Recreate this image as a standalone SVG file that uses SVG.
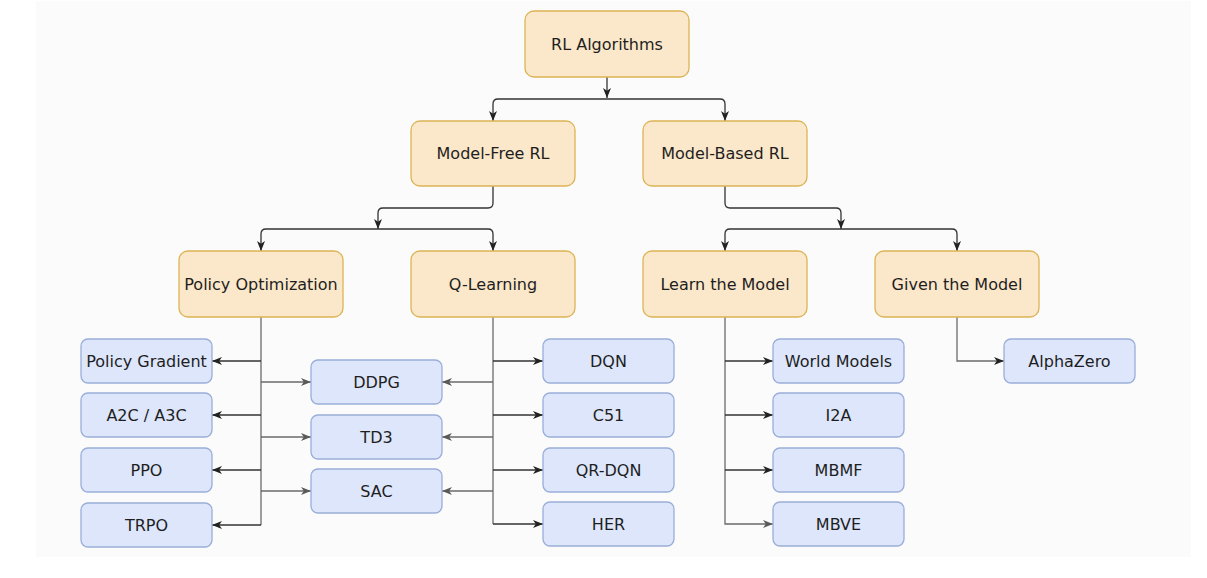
<svg xmlns="http://www.w3.org/2000/svg" width="1207" height="578" viewBox="0 0 1207 578">
  <style>
    .or { fill: #fbe7c9; stroke: #dcb454; stroke-width: 1.3; }
    .bl { fill: #dde6fb; stroke: #9aaed9; stroke-width: 1.3; }
    .t { font-family: "DejaVu Sans", Verdana, sans-serif; font-size: 16px; fill: #1e1e1e; text-anchor: middle; }
    .e { fill: none; stroke: #333333; stroke-width: 1.3; }
    .g { fill: none; stroke: #6a6a6a; stroke-width: 1.3; }
  </style>
  <defs>
    <marker id="ad" markerUnits="userSpaceOnUse" markerWidth="11" markerHeight="9" refX="10" refY="4.5" orient="auto">
      <path d="M0,0.5 L10,4.5 L0,8.5 L2.8,4.5 Z" fill="#222222"/>
    </marker>
    <marker id="ag" markerUnits="userSpaceOnUse" markerWidth="11" markerHeight="9" refX="10" refY="4.5" orient="auto">
      <path d="M0,0.5 L10,4.5 L0,8.5 L2.8,4.5 Z" fill="#5a5a5a"/>
    </marker>
  </defs>
  <rect x="36" y="1" width="1155" height="556" fill="#fbfbfb"/>

  <g id="connectors">
    <path class="e" d="M607,77 V98" marker-end="url(#ad)"/>
    <path class="e" d="M607,99 H498 Q493,99 493,104 V121" marker-end="url(#ad)"/>
    <path class="e" d="M607,99 H720 Q725,99 725,104 V121" marker-end="url(#ad)"/>

    <path class="e" d="M493,186 V203 Q493,208 488,208 H383 Q378,208 378,213 V229" marker-end="url(#ad)"/>
    <path class="e" d="M378,229 H266 Q261,229 261,234 V251" marker-end="url(#ad)"/>
    <path class="e" d="M378,229 H488 Q493,229 493,234 V251" marker-end="url(#ad)"/>

    <path class="e" d="M725,186 V203 Q725,208 730,208 H836 Q841,208 841,213 V229" marker-end="url(#ad)"/>
    <path class="e" d="M841,229 H730 Q725,229 725,234 V251" marker-end="url(#ad)"/>
    <path class="e" d="M841,229 H952 Q957,229 957,234 V251" marker-end="url(#ad)"/>

    <path class="g" d="M261,317 V525"/>
    <path class="e" d="M261,525 H212" marker-end="url(#ad)"/>
    <path class="e" d="M261,361 H212" marker-end="url(#ad)"/>
    <path class="e" d="M261,415 H212" marker-end="url(#ad)"/>
    <path class="e" d="M261,470 H212" marker-end="url(#ad)"/>
    <path class="g" d="M261,382 H311" marker-end="url(#ag)"/>
    <path class="g" d="M261,437 H311" marker-end="url(#ag)"/>
    <path class="g" d="M261,491 H311" marker-end="url(#ag)"/>

    <path class="g" d="M493,317 V524"/>
    <path class="e" d="M493,524 H543" marker-end="url(#ad)"/>
    <path class="e" d="M493,361 H543" marker-end="url(#ad)"/>
    <path class="e" d="M493,415 H543" marker-end="url(#ad)"/>
    <path class="e" d="M493,470 H543" marker-end="url(#ad)"/>
    <path class="g" d="M493,382 H442" marker-end="url(#ag)"/>
    <path class="g" d="M493,437 H442" marker-end="url(#ag)"/>
    <path class="g" d="M493,491 H442" marker-end="url(#ag)"/>

    <path class="g" d="M725,317 V524 H773" marker-end="url(#ag)"/>
    <path class="e" d="M725,361 H773" marker-end="url(#ad)"/>
    <path class="e" d="M725,415 H773" marker-end="url(#ad)"/>
    <path class="e" d="M725,470 H773" marker-end="url(#ad)"/>

    <path class="g" d="M957,317 V361 H1004" marker-end="url(#ad)"/>
  </g>

  <g id="n-rl"><rect class="or" x="525" y="11" width="164" height="66" rx="9"/><text class="t" x="607" y="50">RL Algorithms</text></g>
  <g id="n-mf"><rect class="or" x="411" y="121" width="164" height="65" rx="9"/><text class="t" x="493" y="159">Model-Free RL</text></g>
  <g id="n-mb"><rect class="or" x="643" y="121" width="164" height="65" rx="9"/><text class="t" x="725" y="159">Model-Based RL</text></g>
  <g id="n-po"><rect class="or" x="179" y="251" width="164" height="66" rx="9"/><text class="t" x="261" y="290">Policy Optimization</text></g>
  <g id="n-ql"><rect class="or" x="411" y="251" width="164" height="66" rx="9"/><text class="t" x="493" y="290">Q-Learning</text></g>
  <g id="n-lm"><rect class="or" x="643" y="251" width="164" height="66" rx="9"/><text class="t" x="725" y="290">Learn the Model</text></g>
  <g id="n-gm"><rect class="or" x="875" y="251" width="164" height="66" rx="9"/><text class="t" x="957" y="290">Given the Model</text></g>

  <g id="n-pg"><rect class="bl" x="81" y="339" width="131" height="44" rx="7"/><text class="t" x="146.5" y="367">Policy Gradient</text></g>
  <g id="n-a2c"><rect class="bl" x="81" y="393" width="131" height="44" rx="7"/><text class="t" x="146.5" y="421">A2C / A3C</text></g>
  <g id="n-ppo"><rect class="bl" x="81" y="448" width="131" height="44" rx="7"/><text class="t" x="146.5" y="476">PPO</text></g>
  <g id="n-trpo"><rect class="bl" x="81" y="503" width="131" height="44" rx="7"/><text class="t" x="146.5" y="531">TRPO</text></g>

  <g id="n-ddpg"><rect class="bl" x="311" y="360" width="131" height="44" rx="7"/><text class="t" x="376.5" y="388">DDPG</text></g>
  <g id="n-td3"><rect class="bl" x="311" y="415" width="131" height="44" rx="7"/><text class="t" x="376.5" y="443">TD3</text></g>
  <g id="n-sac"><rect class="bl" x="311" y="469" width="131" height="44" rx="7"/><text class="t" x="376.5" y="497">SAC</text></g>

  <g id="n-dqn"><rect class="bl" x="543" y="339" width="131" height="44" rx="7"/><text class="t" x="608.5" y="367">DQN</text></g>
  <g id="n-c51"><rect class="bl" x="543" y="393" width="131" height="44" rx="7"/><text class="t" x="608.5" y="421">C51</text></g>
  <g id="n-qrdqn"><rect class="bl" x="543" y="448" width="131" height="44" rx="7"/><text class="t" x="608.5" y="476">QR-DQN</text></g>
  <g id="n-her"><rect class="bl" x="543" y="502" width="131" height="44" rx="7"/><text class="t" x="608.5" y="530">HER</text></g>

  <g id="n-wm"><rect class="bl" x="773" y="339" width="131" height="44" rx="7"/><text class="t" x="838.5" y="367">World Models</text></g>
  <g id="n-i2a"><rect class="bl" x="773" y="393" width="131" height="44" rx="7"/><text class="t" x="838.5" y="421">I2A</text></g>
  <g id="n-mbmf"><rect class="bl" x="773" y="448" width="131" height="44" rx="7"/><text class="t" x="838.5" y="476">MBMF</text></g>
  <g id="n-mbve"><rect class="bl" x="773" y="502" width="131" height="44" rx="7"/><text class="t" x="838.5" y="530">MBVE</text></g>

  <g id="n-az"><rect class="bl" x="1004" y="339" width="131" height="44" rx="7"/><text class="t" x="1069.5" y="367">AlphaZero</text></g>
</svg>
